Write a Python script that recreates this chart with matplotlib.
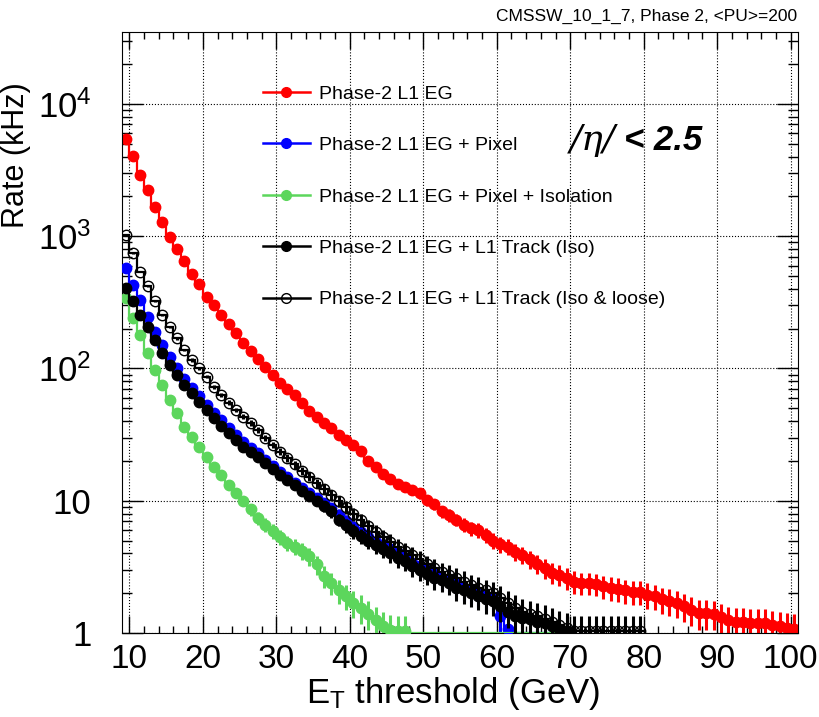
import numpy as np
import matplotlib
matplotlib.use("Agg")
import matplotlib.pyplot as plt
from matplotlib.lines import Line2D
from matplotlib.ticker import MultipleLocator, LogLocator, NullFormatter

# L1 rates in kHz, one value per 1 GeV threshold bin, first bin starts at 9 GeV
bin_start = 9

rate_eg = [5460, 4010, 2915, 2220, 1650, 1290, 995, 804, 644, 520,
           432, 350, 301, 254, 217, 185, 157, 135, 118, 102,
           89.5, 77.4, 69.7, 62.8, 55.2, 47.7, 42.8, 38.6, 35.3, 31.5,
           28.9, 26.5, 23.8, 20.0, 18.1, 16.0, 14.6, 13.4, 12.8, 12.1,
           11.4, 10.1, 9.4, 8.3, 7.8, 7.2, 6.6, 6.2, 6.0, 5.5,
           5.0, 4.7, 4.5, 4.1, 3.9, 3.6, 3.35, 3.1, 2.85, 2.75,
           2.6, 2.45, 2.4, 2.4, 2.35, 2.25, 2.2, 2.15, 2.1, 2.05,
           2.05, 1.95, 1.9, 1.8, 1.75, 1.68, 1.6, 1.5, 1.42, 1.42,
           1.4, 1.32, 1.25, 1.22, 1.22, 1.2, 1.18, 1.18, 1.15, 1.12,
           1.1, 1.08]

rate_pix = [580, 429, 330, 247, 190, 151, 123, 100, 83, 71,
            61.4, 53.1, 45.9, 40.9, 35.3, 31.5, 28.0, 24.9, 22.9, 20.4,
            18.3, 16.6, 15.2, 13.6, 12.4, 11.4, 10.5, 9.6, 8.8, 7.8,
            7.0, 6.3, 5.8, 5.3, 4.9, 4.6, 4.3, 4.0, 3.7, 3.4,
            3.2, 3.0, 2.8, 2.6, 2.5, 2.35, 2.2, 2.1, 2.0, 1.9,
            1.8, 1.35, 1.08, 0, 0, 0, 0, 0, 0, 0,
            0]

rate_pix_iso = [340, 240, 180, 131, 97.6, 75.2, 57.9, 45.9, 36.4, 30.5,
                25.7, 21.6, 18.1, 15.7, 13.2, 11.5, 10.0, 8.6, 7.4, 6.6,
                5.9, 5.3, 4.8, 4.5, 4.2, 3.8, 3.3, 2.7, 2.4, 2.1,
                1.9, 1.7, 1.55, 1.4, 1.25, 1.12, 1.05, 1.03, 1.03, 0,
                0, 0, 0, 0, 0, 0, 0, 0, 0, 0,
                0, 0, 0, 0, 0, 0, 0, 0, 0, 0,
                0]

rate_trk_iso = [409, 326, 254, 207, 163, 131, 106, 89.5, 75.2, 65.0,
                56.2, 48.6, 42.1, 36.8, 32.4, 28.8, 25.7, 23.5, 21.3, 19.2,
                17.3, 15.7, 14.4, 13.2, 11.9, 10.9, 10.0, 9.1, 8.3, 7.2,
                6.5, 5.9, 5.4, 5.0, 4.6, 4.3, 4.0, 3.7, 3.5, 3.2,
                3.0, 2.8, 2.6, 2.5, 2.4, 2.2, 2.1, 2.0, 1.9, 1.8,
                1.75, 1.6, 1.45, 1.35, 1.3, 1.28, 1.22, 1.18, 1.12, 1.08,
                1.04]

rate_trk_loose = [1025, 745, 541, 417, 321, 254, 207, 169, 138, 116,
                  100, 86.9, 73.0, 63.1, 55.2, 48.6, 43.3, 38.6, 34.3, 30.0,
                  26.4, 23.5, 21.0, 18.8, 16.8, 15.2, 13.6, 12.3, 11.1, 9.9,
                  8.9, 7.9, 7.1, 6.4, 5.8, 5.3, 4.9, 4.5, 4.2, 3.9,
                  3.6, 3.3, 3.1, 2.9, 2.75, 2.6, 2.45, 2.3, 2.2, 2.1,
                  2.0, 1.85, 1.7, 1.55, 1.45, 1.4, 1.35, 1.28, 1.22, 1.15,
                  1.1, 1.03, 1.03, 1.03, 1.03, 1.03, 1.03, 1.03, 1.03, 1.03,
                  1.03]

series_labels = ["Phase-2 L1 EG",
                 "Phase-2 L1 EG + Pixel",
                 "Phase-2 L1 EG + Pixel + Isolation",
                 "Phase-2 L1 EG + L1 Track (Iso)",
                 "Phase-2 L1 EG + L1 Track (Iso & loose)"]
series_colors = ["#ff0000", "#0000ff", "#5cd65c", "#000000", "#000000"]
series_open = [False, False, False, False, True]

# statistical error scale (kHz^0.5), Poisson-like bars
err_scale = 0.3

plt.rcParams['font.family'] = ['Liberation Sans', 'DejaVu Sans']
plt.rcParams['mathtext.default'] = 'regular'

fig = plt.figure(figsize=(8.19, 7.17), dpi=100)
ax = fig.add_axes([122 / 819, 1 - 633 / 717, 676 / 819, 601 / 717])

all_rates = [rate_eg, rate_pix, rate_pix_iso, rate_trk_iso, rate_trk_loose]
handles = []
for i, vals in enumerate(all_rates):
    v = np.array(vals, dtype=float)
    edges = np.arange(bin_start, bin_start + len(v) + 1)
    centers = edges[:-1] + 0.5
    c = series_colors[i]
    z = 2 + i
    # bins below the frame are drawn along the bottom, like ROOT does
    ax.stairs(np.clip(v, 1.0, None), edges, baseline=None, color=c, lw=1.6, zorder=z)
    m = v >= 1.0
    err = err_scale * np.sqrt(v[m])
    mfc = 'none' if series_open[i] else c
    ax.errorbar(centers[m], v[m], yerr=err, fmt='o', color=c, ms=7.5,
                mfc=mfc, mec=c, mew=1.0, elinewidth=2.2, capsize=0, zorder=z)
    handles.append(Line2D([], [], color=c, lw=1.8, marker='o', ms=7, mfc=mfc, mec=c))

ax.set_yscale('log')
ax.set_xlim(9, 101)
ax.set_ylim(1, 3.5e4)

ax.xaxis.set_major_locator(MultipleLocator(10))
ax.xaxis.set_minor_locator(MultipleLocator(2))
ax.set_yticks([1, 10, 100, 1000, 10000])
ax.set_yticklabels(['1', '10', '10$^{2}$', '10$^{3}$', '10$^{4}$'])
ax.yaxis.set_minor_locator(LogLocator(base=10, subs=range(2, 10), numticks=20))
ax.yaxis.set_minor_formatter(NullFormatter())

ax.tick_params(which='both', direction='in', top=True, right=True, width=1.0)
ax.tick_params(axis='x', which='major', length=12, labelsize=24, pad=8)
ax.tick_params(axis='x', which='minor', length=5)
ax.tick_params(axis='y', which='major', length=15, labelsize=25, pad=22)
ax.tick_params(axis='y', which='minor', length=7)
ax.grid(True, which='major', ls=':', color='black', lw=0.8)

ax.set_xlabel('E$_{T}$ threshold (GeV)', fontsize=25)
ax.xaxis.set_label_coords(0.49, -0.07)
ax.set_ylabel('Rate (kHz)', fontsize=22)
ax.yaxis.set_label_coords(-0.135, 0.795)

ax.legend(handles, series_labels, loc='upper left', bbox_to_anchor=(263 / 819, 1 - 85 / 717),
          bbox_transform=fig.transFigure, frameon=False, fontsize=14,
          handlelength=2.4, handletextpad=0.5, labelspacing=1.74,
          borderpad=0, borderaxespad=0)

fig.text(570 / 819, 1 - 140 / 717, '/η/', family='DejaVu Serif', style='italic',
         fontsize=26, ha='left', va='center')
fig.text(624 / 819, 1 - 140 / 717, '< 2.5', fontsize=25, fontweight='bold',
         style='italic', ha='left', va='center')
fig.text(797 / 819, 1 - 16 / 717, 'CMSSW_10_1_7, Phase 2, <PU>=200', fontsize=12.5,
         ha='right', va='center')

fig.savefig('out.png', dpi=100)
